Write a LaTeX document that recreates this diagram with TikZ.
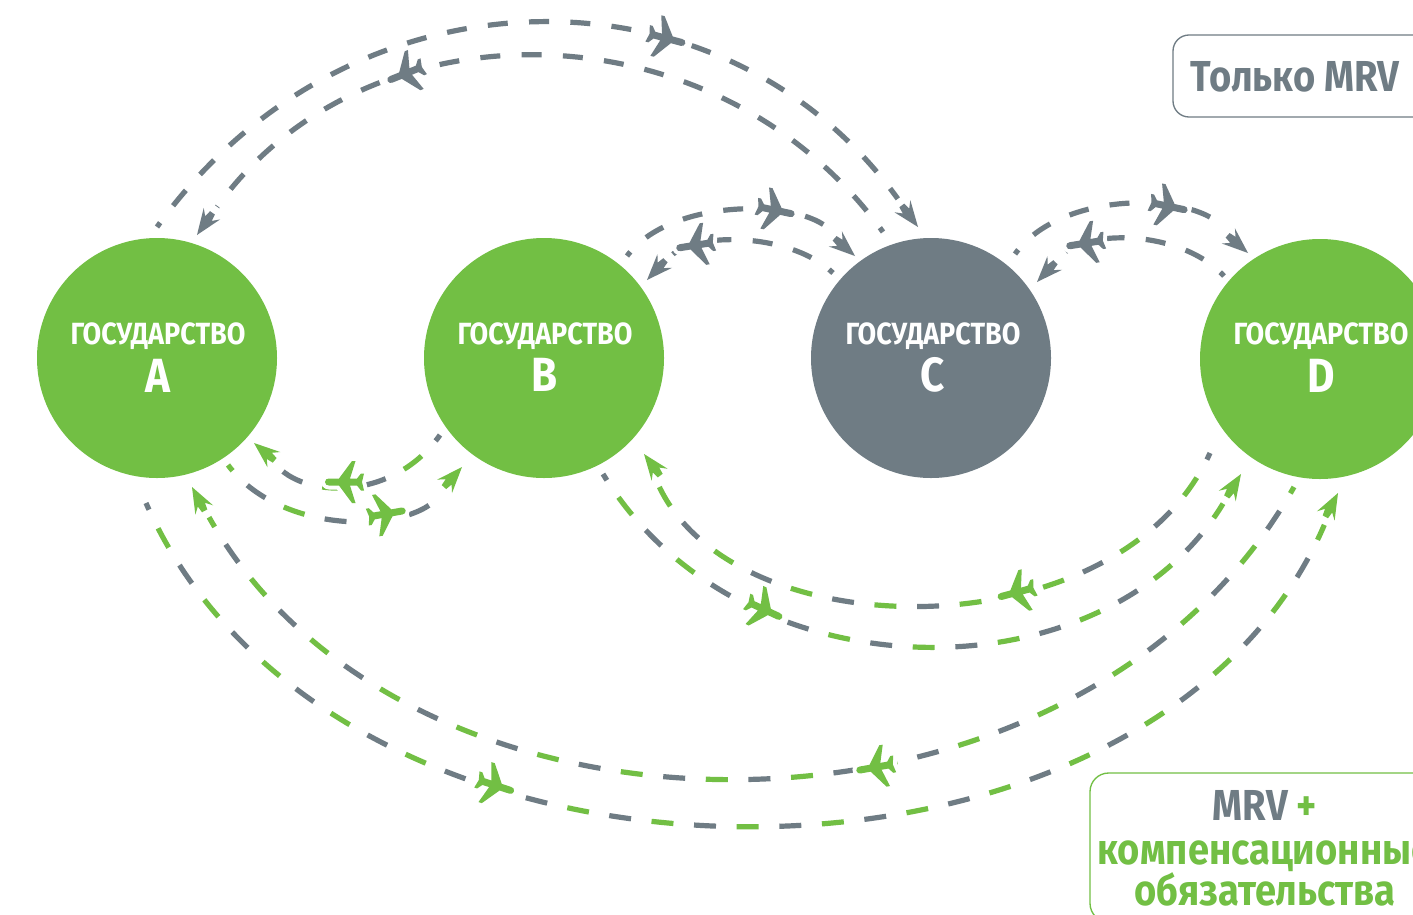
\documentclass[tikz,border=0pt]{standalone}
\usepackage{fontspec}
\newfontfamily\dinfont[FakeStretch=0.88]{Fira Sans}
\definecolor{stategreen}{HTML}{72BF44}
\definecolor{stategrey}{HTML}{6F7C84}
\tikzset{
  state/.style={circle,minimum size=180pt,inner sep=0pt},
  statecap/.style={text=white,anchor=base,font=\dinfont\bfseries\fontsize{23}{23}\selectfont,inner sep=0pt},
  stateletter/.style={text=white,anchor=base,font=\dinfont\bfseries\fontsize{36}{36}\selectfont,inner sep=0pt},
  boxcap/.style={anchor=base,font=\dinfont\bfseries\fontsize{32.5}{32.5}\selectfont,inner sep=0pt},
  route/.style={line width=3.9pt},
  solo/.style={route,stategrey,dash pattern=on 15pt off 16pt,dash phase=11pt,shorten >=26pt},
  leadtone/.style={route,dash pattern=on 16.5pt off 47.5pt,dash phase=11pt,shorten >=26pt},
  nexttone/.style={route,dash pattern=on 16.5pt off 47.5pt,dash phase=43pt,shorten >=26pt},
  airliner/.pic={
    \path[pic actions,preaction={draw=white,line width=6pt,line join=round}]
      (21,0) .. controls (21,-2.5) and (19,-3.5) .. (17,-3.5) -- (7,-3.5) -- (-6,-21) -- (-9.5,-21) -- (-4,-3.5)
      -- (-11,-3.5) -- (-15,-8.5) -- (-18,-8.5) -- (-16,0) -- (-18,8.5) -- (-15,8.5) -- (-11,3.5)
      -- (-4,3.5) -- (-9.5,21) -- (-6,21) -- (7,3.5) -- (17,3.5) .. controls (19,3.5) and (21,2.5) .. (21,0) -- cycle;
  },
  dart/.pic={
    \path[pic actions,preaction={draw=white,line width=3pt,line join=round}]
      (0,0) -- (-26,-10) -- (-20,-4) -- (-27,-3) -- (-27,3) -- (-20,4) -- (-26,10) -- cycle;
  }
}
\begin{document}
\begin{tikzpicture}[x=0.75pt,y=-0.75pt]
  \path[use as bounding box,clip] (0,0) rectangle (1413,914);
  \fill[white] (0,0) rectangle (1413,914);

  % states
  \node[state,fill=stategreen] (stateA) at (157,358) {};
  \node[state,fill=stategreen] (stateB) at (544,358) {};
  \node[state,fill=stategrey] (stateC) at (931,358) {};
  \node[state,fill=stategreen] (stateD) at (1320,359) {};
  \node[statecap] (capA) at (158,344) {ГОСУДАРСТВО};
  \node[statecap] (capB) at (545,344) {ГОСУДАРСТВО};
  \node[statecap] (capC) at (933,344) {ГОСУДАРСТВО};
  \node[statecap] (capD) at (1321,344) {ГОСУДАРСТВО};
  \node[stateletter] (letA) at (158,392) {A};
  \node[stateletter] (letB) at (545,391) {B};
  \node[stateletter] (letC) at (933,391) {C};
  \node[stateletter] (letD) at (1321,392) {D};

  % route ends
  \coordinate (ACout) at (157,227);
  \coordinate (ACin) at (918,227);
  \coordinate (CAout) at (883,232);
  \coordinate (CAin) at (197,235);
  \coordinate (BCout) at (627,256);
  \coordinate (BCin) at (855,256);
  \coordinate (CBout) at (833,273);
  \coordinate (CBin) at (647,280);
  \coordinate (CDout) at (1015,254);
  \coordinate (CDin) at (1248,253);
  \coordinate (DCout) at (1224,276);
  \coordinate (DCin) at (1037,282);
  \coordinate (BAout) at (440,435);
  \coordinate (BAin) at (254,443);
  \coordinate (ABout) at (228,465);
  \coordinate (ABin) at (462,467);
  \coordinate (DBout) at (1210,453);
  \coordinate (DBin) at (644,454);
  \coordinate (BDout) at (603,474);
  \coordinate (BDin) at (1241,474);
  \coordinate (DAout) at (1294,487);
  \coordinate (DAin) at (192,487);
  \coordinate (ADout) at (146,503);
  \coordinate (ADin) at (1338,493);

  % grey routes
  \draw[solo] (ACout) .. controls (350,-42) and (725,-42) .. (ACin);
  \draw[solo] (CAout) .. controls (715,0) and (365,0) .. (CAin);
  \draw[solo] (BCout) .. controls (670,198) and (800,198) .. (BCin);
  \draw[solo] (CBout) .. controls (790,232) and (695,232) .. (CBin);
  \draw[solo] (CDout) .. controls (1060,191) and (1190,191) .. (CDin);
  \draw[solo] (DCout) .. controls (1180,229) and (1085,229) .. (DCin);

  % two-colour routes
  \draw[leadtone,stategrey] (BAout) .. controls (395,499) and (310,499) .. (BAin);
  \draw[nexttone,stategreen] (BAout) .. controls (395,499) and (310,499) .. (BAin);
  \draw[leadtone,stategreen] (ABout) .. controls (280,535) and (410,535) .. (ABin);
  \draw[nexttone,stategrey] (ABout) .. controls (280,535) and (410,535) .. (ABin);
  \draw[leadtone,stategrey] (DBout) .. controls (1120,652) and (736,652) .. (DBin);
  \draw[nexttone,stategreen] (DBout) .. controls (1120,652) and (736,652) .. (DBin);
  \draw[leadtone,stategrey] (BDout) .. controls (740,700) and (1104,700) .. (BDin);
  \draw[nexttone,stategreen] (BDout) .. controls (740,700) and (1104,700) .. (BDin);
  \draw[leadtone,stategreen] (DAout) .. controls (1077,872) and (409,872) .. (DAin);
  \draw[nexttone,stategrey] (DAout) .. controls (1077,872) and (409,872) .. (DAin);
  \draw[leadtone,stategrey] (ADout) .. controls (334,931) and (1150,931) .. (ADin);
  \draw[nexttone,stategreen] (ADout) .. controls (334,931) and (1150,931) .. (ADin);

  % arrow tips
  \pic[fill=stategrey,rotate=-53] at (ACin) {dart};
  \pic[fill=stategrey,rotate=235] at (CAin) {dart};
  \pic[fill=stategrey,rotate=-41] at (BCin) {dart};
  \pic[fill=stategrey,rotate=227] at (CBin) {dart};
  \pic[fill=stategrey,rotate=-41] at (CDin) {dart};
  \pic[fill=stategrey,rotate=227] at (DCin) {dart};
  \pic[fill=stategreen,rotate=140] at (BAin) {dart};
  \pic[fill=stategreen,rotate=48] at (ABin) {dart};
  \pic[fill=stategreen,rotate=127] at (DBin) {dart};
  \pic[fill=stategreen,rotate=58] at (BDin) {dart};
  \pic[fill=stategreen,rotate=118] at (DAin) {dart};
  \pic[fill=stategreen,rotate=62] at (ADin) {dart};

  % planes
  \pic[fill=stategrey,rotate=-15] at (665,38) {airliner};
  \pic[fill=stategrey,rotate=202] at (407,73) {airliner};
  \pic[fill=stategrey,rotate=-12] at (774,210) {airliner};
  \pic[fill=stategrey,rotate=189] at (697,245) {airliner};
  \pic[fill=stategrey,rotate=-12] at (1167,206) {airliner};
  \pic[fill=stategrey,rotate=189] at (1087,243) {airliner};
  \pic[fill=stategreen,rotate=180] at (346,482) {airliner};
  \pic[fill=stategreen,rotate=10] at (385,514) {airliner};
  \pic[fill=stategreen,rotate=195] at (1018,592) {airliner};
  \pic[fill=stategreen,rotate=-25] at (763,609) {airliner};
  \pic[fill=stategreen,rotate=190] at (877,767) {airliner};
  \pic[fill=stategreen,rotate=-18] at (494,785) {airliner};

  % legend
  \draw[stategrey,line width=1pt,rounded corners=12] (1173,35) rectangle (1500,117);
  \node[boxcap,text=stategrey] (mrvonly) at (1295,91) {Только MRV};
  \draw[stategreen,line width=1pt,rounded corners=14] (1090,773) rectangle (1500,922);
  \node[boxcap,text=stategrey] (mrvplus) at (1265,820) {MRV \textcolor{stategreen}{+}};
  \node[boxcap,text=stategreen] (offset) at (1265,864) {компенсационные};
  \node[boxcap,text=stategreen] (duty) at (1265,905) {обязательства};
\end{tikzpicture}
\end{document}
